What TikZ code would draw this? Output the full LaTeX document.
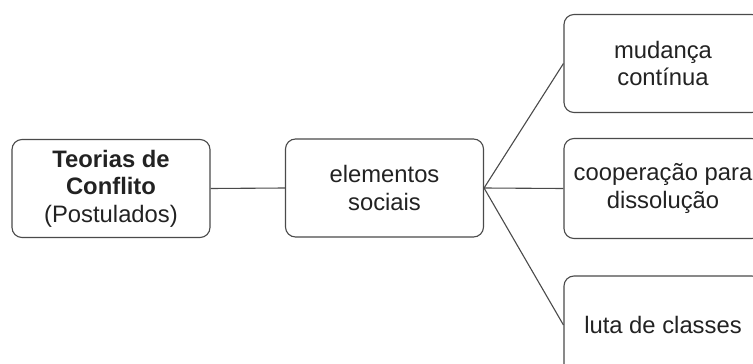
\documentclass[tikz,border=0pt]{standalone}
\usepackage{fontspec}
\setmainfont{Liberation Sans}
\usepackage{xcolor}
\definecolor{edgegray}{HTML}{4A4A4A}
\definecolor{textgray}{HTML}{222222}

\tikzset{
    postbox/.style={draw=edgegray, line width=1.1pt, rounded corners=10pt,
        minimum width=198pt, minimum height=98pt, align=center,
        text=textgray, font=\fontsize{23.8}{27.5}\selectfont},
    link/.style={draw=edgegray, line width=1.1pt}
}

\begin{document}
\begin{tikzpicture}[x=1pt, y=-1pt]
    \useasboundingbox (0,0) rectangle (753,364);
    \clip (0,0) rectangle (753,364);

    %% root and middle step:
    \node[postbox] (teorias) at (111,188.5) {\textbf{Teorias de}\\\textbf{Conflito}\\(Postulados)};
    \node[postbox] (elementos) at (384.5,188) {elementos\\sociais};

    %% the three postulates, right column:
    \node[postbox] (mudanca) at (663,63.5) {mudança\\contínua};
    \node[postbox, minimum height=100pt] (cooperacao) at (663,188.5) {cooperação para\\dissolução};
    \node[postbox] (luta) at (663,325) {luta de classes};

    \draw[link] (teorias.east) -- (elementos.west);
    \draw[link] (elementos.east) -- (mudanca.west);
    \draw[link] (elementos.east) -- (cooperacao.west);
    \draw[link] (elementos.east) -- (luta.west);

\end{tikzpicture}
\end{document}
